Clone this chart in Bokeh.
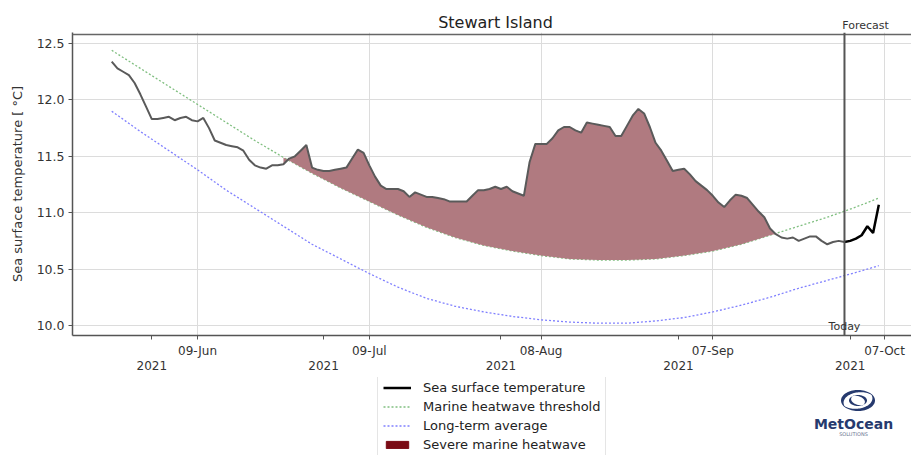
import numpy as np
import pandas as pd
from bokeh.plotting import figure
from bokeh.layouts import column
from bokeh.models import (Range1d, FixedTicker, DatetimeTickFormatter, DatetimeAxis, ColumnDataSource,
                          NumeralTickFormatter, Span, Label, Legend, LegendItem, PolyAnnotation)
from bokeh.embed import file_html
from bokeh.resources import INLINE

# ---------------- data ----------------
sst_start = "2021-05-25"          # daily values, observed
sst_values = [
    12.34, 12.28, 12.25, 12.22, 12.15, 12.05, 11.94, 11.83, 11.83, 11.84,
    11.85, 11.82, 11.84, 11.85, 11.82, 11.81, 11.84, 11.75, 11.64, 11.62,
    11.60, 11.59, 11.58, 11.55, 11.47, 11.42, 11.40, 11.39, 11.42, 11.42,
    11.43, 11.48, 11.50, 11.55, 11.60, 11.40, 11.38, 11.37, 11.37, 11.38,
    11.39, 11.40, 11.48, 11.56, 11.53, 11.42, 11.32, 11.24, 11.21, 11.21,
    11.21, 11.19, 11.14, 11.18, 11.16, 11.14, 11.14, 11.13, 11.12, 11.10,
    11.10, 11.10, 11.10, 11.15, 11.20, 11.20, 11.21, 11.23, 11.21, 11.23,
    11.19, 11.17, 11.15, 11.45, 11.61, 11.61, 11.61, 11.66, 11.73, 11.76,
    11.76, 11.73, 11.71, 11.80, 11.79, 11.78, 11.77, 11.76, 11.68, 11.68,
    11.77, 11.86, 11.92, 11.88, 11.76, 11.62, 11.55, 11.46, 11.37, 11.38,
    11.39, 11.34, 11.28, 11.24, 11.20, 11.15, 11.09, 11.05, 11.11, 11.16,
    11.15, 11.13, 11.07, 11.01, 10.96, 10.86, 10.81, 10.78, 10.77, 10.78,
    10.75, 10.77, 10.79, 10.79, 10.75, 10.72, 10.74, 10.75, 10.74,
]
forecast_start = "2021-09-30"     # daily values, forecast
forecast_values = [10.74, 10.75, 10.77, 10.80, 10.88, 10.82, 11.07]

clim_dates = [
    "2021-05-25", "2021-05-30", "2021-06-04", "2021-06-09", "2021-06-14",
    "2021-06-19", "2021-06-24", "2021-06-29", "2021-07-04", "2021-07-09",
    "2021-07-14", "2021-07-19", "2021-07-24", "2021-07-29", "2021-08-03",
    "2021-08-08", "2021-08-13", "2021-08-18", "2021-08-23", "2021-08-28",
    "2021-09-02", "2021-09-07", "2021-09-12", "2021-09-17", "2021-09-22",
    "2021-09-27", "2021-10-02", "2021-10-06",
]
threshold_values = [
    12.44, 12.28, 12.12, 11.96, 11.80, 11.64, 11.49, 11.35, 11.22, 11.10,
    10.98, 10.87, 10.78, 10.71, 10.66, 10.62, 10.59, 10.58, 10.58, 10.59,
    10.62, 10.66, 10.72, 10.80, 10.88, 10.96, 11.05, 11.13,
]
average_values = [
    11.90, 11.72, 11.55, 11.38, 11.20, 11.04, 10.88, 10.72, 10.59, 10.46,
    10.34, 10.24, 10.17, 10.12, 10.08, 10.05, 10.03, 10.02, 10.02, 10.04,
    10.07, 10.12, 10.18, 10.25, 10.33, 10.40, 10.47, 10.53,
]
heatwave_start = "2021-06-24"
heatwave_end = "2021-09-18"
today = "2021-09-30"

date_ticks = ["2021-06-09", "2021-07-09", "2021-08-08", "2021-09-07", "2021-10-07"]
month_ticks = ["2021-06-01", "2021-07-01", "2021-08-01", "2021-09-01", "2021-10-01"]
y_ticks = [10.0, 10.5, 11.0, 11.5, 12.0, 12.5]

# ---------------- derived ----------------
def ms(d):
    return pd.Timestamp(d).value // 10**6

sst_dates = pd.date_range(sst_start, periods=len(sst_values), freq="D")
fc_dates = pd.date_range(forecast_start, periods=len(forecast_values), freq="D")
clim_dt = pd.to_datetime(clim_dates)
sst_arr = np.array(sst_values)
thr_arr = np.array(threshold_values)

hs, he = pd.Timestamp(heatwave_start), pd.Timestamp(heatwave_end)
m_sst = (sst_dates >= hs) & (sst_dates <= he)
m_thr = (clim_dt >= hs) & (clim_dt <= he)
patch_x = list(sst_dates[m_sst]) + list(clim_dt[m_thr][::-1])
patch_y = list(sst_arr[m_sst]) + list(thr_arr[m_thr][::-1])

src_sst = ColumnDataSource(dict(x=sst_dates, y=sst_values))
src_fc = ColumnDataSource(dict(x=fc_dates, y=forecast_values))
src_thr = ColumnDataSource(dict(x=clim_dt, y=threshold_values))
src_avg = ColumnDataSource(dict(x=clim_dt, y=average_values))

FONT = "DejaVu Sans"
W = 911
FRAME_LEFT = 72   # column aligns the frames of all three strips to the main chart's frame
THR_STYLE = dict(line_color="#80bf80", line_width=1.3, line_dash="2 2")
AVG_STYLE = dict(line_color="#8080ff", line_width=1.3, line_dash="2 2")
FC_STYLE = dict(line_color="#000000", line_width=2.5)
HW_LEGEND = "#7a0a14"

# ---------------- top strip: title + Forecast ----------------
top = figure(width=W, height=32, x_range=Range1d(0, 1), y_range=Range1d(0, 1),
             output_backend="svg", toolbar_location=None, min_border=0,
             x_axis_location=None, y_axis_location=None, outline_line_color=None)
top.grid.visible = False
top.add_layout(Label(x=495 - FRAME_LEFT, y=10, x_units="screen", y_units="screen",
                     text="Stewart Island", text_align="center", text_baseline="middle",
                     text_font=FONT, text_font_size="16px", text_color="#222222"))
top.add_layout(Label(x=865 - FRAME_LEFT, y=7, x_units="screen", y_units="screen", text="Forecast",
                     text_align="center", text_baseline="middle", text_font=FONT,
                     text_font_size="11px", text_color="#333333"))

# ---------------- main chart ----------------
x0 = pd.Timestamp("2021-05-18 03:36")
x1 = pd.Timestamp("2021-10-11 17:00")
y0, y1 = 9.911, 12.598
y_spine = 12.58

p = figure(width=W, height=345, x_axis_type="datetime",
           x_range=Range1d(x0, x1), y_range=Range1d(y0, y1),
           output_backend="svg", toolbar_location=None,
           min_border_left=72, min_border_right=0, min_border_top=0, min_border_bottom=42)
p.outline_line_color = None
p.background_fill_color = "white"
p.border_fill_color = "white"

xa = p.xaxis[0]
xa.ticker = FixedTicker(ticks=[ms(d) for d in date_ticks], minor_ticks=[ms(d) for d in month_ticks])
fmt = "%d-%b"
xa.formatter = DatetimeTickFormatter(days=fmt, months=fmt, years=fmt, hours=fmt, minutes=fmt,
                                     hourmin=fmt, seconds=fmt, minsec=fmt, milliseconds=fmt,
                                     microseconds=fmt)
xa.axis_line_color = "#555555"
xa.axis_line_width = 1.5
xa.major_tick_out = 4
xa.major_tick_in = 0
xa.minor_tick_out = 4
xa.minor_tick_in = 0
xa.major_tick_line_color = "#555555"
xa.minor_tick_line_color = "#555555"
xa.major_label_standoff = 4
xa.major_label_text_font = FONT
xa.major_label_text_font_size = "12px"
xa.major_label_text_color = "#333333"

yfmt = "%Y"
xa2 = DatetimeAxis(ticker=FixedTicker(ticks=[ms(d) for d in month_ticks]),
                   formatter=DatetimeTickFormatter(days=yfmt, months=yfmt, years=yfmt, hours=yfmt,
                                                   minutes=yfmt, hourmin=yfmt, seconds=yfmt,
                                                   minsec=yfmt, milliseconds=yfmt, microseconds=yfmt))
xa2.axis_line_color = None
xa2.major_tick_line_color = None
xa2.minor_tick_line_color = None
xa2.major_tick_out = 0
xa2.major_tick_in = 0
xa2.minor_tick_out = 0
xa2.minor_tick_in = 0
xa2.major_label_standoff = 0
xa2.major_label_text_font = FONT
xa2.major_label_text_font_size = "12px"
xa2.major_label_text_color = "#333333"
p.add_layout(xa2, "below")

ya = p.yaxis[0]
ya.ticker = FixedTicker(ticks=y_ticks)
ya.formatter = NumeralTickFormatter(format="0.0")
ya.axis_label = "Sea surface temperature [ °C]"
ya.axis_label_text_font = FONT
ya.axis_label_text_font_size = "13px"
ya.axis_label_text_font_style = "normal"
ya.axis_label_text_color = "#333333"
ya.axis_label_standoff = 9
ya.axis_line_color = "#555555"
ya.axis_line_width = 1.5
ya.major_tick_out = 4
ya.major_tick_in = 0
ya.minor_tick_line_color = None
ya.major_tick_line_color = "#555555"
ya.major_label_standoff = 4
ya.major_label_text_font = FONT
ya.major_label_text_font_size = "12.5px"
ya.major_label_text_color = "#333333"

p.xgrid.ticker = FixedTicker(ticks=[ms(d) for d in date_ticks])
p.xgrid.grid_line_color = "#dcdcdc"
p.ygrid.grid_line_color = "#dcdcdc"

p.line("x", "y", source=src_thr, **THR_STYLE)
p.line("x", "y", source=src_avg, **AVG_STYLE)
p.patch(patch_x, patch_y, fill_color="#b07a80", line_color=None)
p.line("x", "y", source=src_sst, line_color="#5a5a5a", line_width=2)
p.line("x", "y", source=src_fc, **FC_STYLE)

p.add_layout(Span(location=y_spine, dimension="width", line_color="#666666", line_width=1.5))
p.add_layout(Span(location=ms(today), dimension="height", line_color="#555555", line_width=2))
p.add_layout(Label(x=ms(today), y=y0, y_offset=3, text="Today",
                   text_align="center", text_baseline="bottom", text_font=FONT,
                   text_font_size="11px", text_color="#333333"))

# ---------------- bottom strip: legend + logo ----------------
bot = figure(width=W, height=78, x_range=Range1d(0, 1), y_range=Range1d(0, 1),
             output_backend="svg", toolbar_location=None, min_border=0,
             x_axis_location=None, y_axis_location=None, outline_line_color=None)
bot.grid.visible = False
l_fc = bot.line("x", "y", source=src_fc, **FC_STYLE)
l_thr = bot.line("x", "y", source=src_thr, **THR_STYLE)
l_avg = bot.line("x", "y", source=src_avg, **AVG_STYLE)
l_hw = bot.patch(patch_x, patch_y, fill_color=HW_LEGEND, line_color=HW_LEGEND)

legend = Legend(items=[
    LegendItem(label="Sea surface temperature", renderers=[l_fc]),
    LegendItem(label="Marine heatwave threshold", renderers=[l_thr]),
    LegendItem(label="Long-term average", renderers=[l_avg]),
    LegendItem(label="Severe marine heatwave", renderers=[l_hw]),
], location=(377 - FRAME_LEFT, -3))
legend.padding = 5
legend.margin = 0
legend.spacing = 4
legend.label_height = 15
legend.glyph_height = 9
legend.glyph_width = 28
legend.label_standoff = 12
legend.label_text_font = FONT
legend.label_text_font_size = "13px"
legend.label_text_color = "#222222"
legend.border_line_color = "#cccccc"
legend.border_line_width = 1
legend.background_fill_alpha = 1.0
bot.add_layout(legend)

NAVY = "#263a6e"
cx, cy = 857.5 - FRAME_LEFT, 55.0

def crescent(a, b, t0, t1, w):
    t = np.linspace(t0, t1, 40)
    th = w * np.sin(np.pi * (t - t0) / (t1 - t0))
    xo = cx + a * np.cos(t)
    yo = cy + b * np.sin(t)
    xi = cx + (a - th) * np.cos(t)
    yi = cy + (b - th * b / a) * np.sin(t)
    return list(np.r_[xo, xi[::-1]]), list(np.r_[yo, yi[::-1]])

for (a, b, t0, t1, w) in [(17, 10.5, 0.15 * np.pi, 1.25 * np.pi, 4.5),
                          (17, 10.5, 1.15 * np.pi, 2.25 * np.pi, 4.5),
                          (9, 5.5, 0.7 * np.pi, 1.7 * np.pi, 3.0),
                          (9, 5.5, 1.7 * np.pi, 2.7 * np.pi, 3.0)]:
    xs, ys = crescent(a, b, t0, t1, w)
    bot.add_layout(PolyAnnotation(xs=xs, ys=ys, xs_units="screen", ys_units="screen",
                                  fill_color=NAVY, fill_alpha=1.0, line_color=None))

bot.add_layout(Label(x=853 - FRAME_LEFT, y=32, x_units="screen", y_units="screen", text="MetOcean",
                     text_align="center", text_baseline="middle", text_font=FONT,
                     text_font_size="14px", text_font_style="bold", text_color=NAVY))
bot.add_layout(Label(x=853 - FRAME_LEFT, y=22, x_units="screen", y_units="screen", text="SOLUTIONS",
                     text_align="center", text_baseline="middle", text_font=FONT,
                     text_font_size="5px", text_color="#6a7590"))

layout = column(top, p, bot, spacing=0)
open("out.html", "w").write(file_html(layout, INLINE))
